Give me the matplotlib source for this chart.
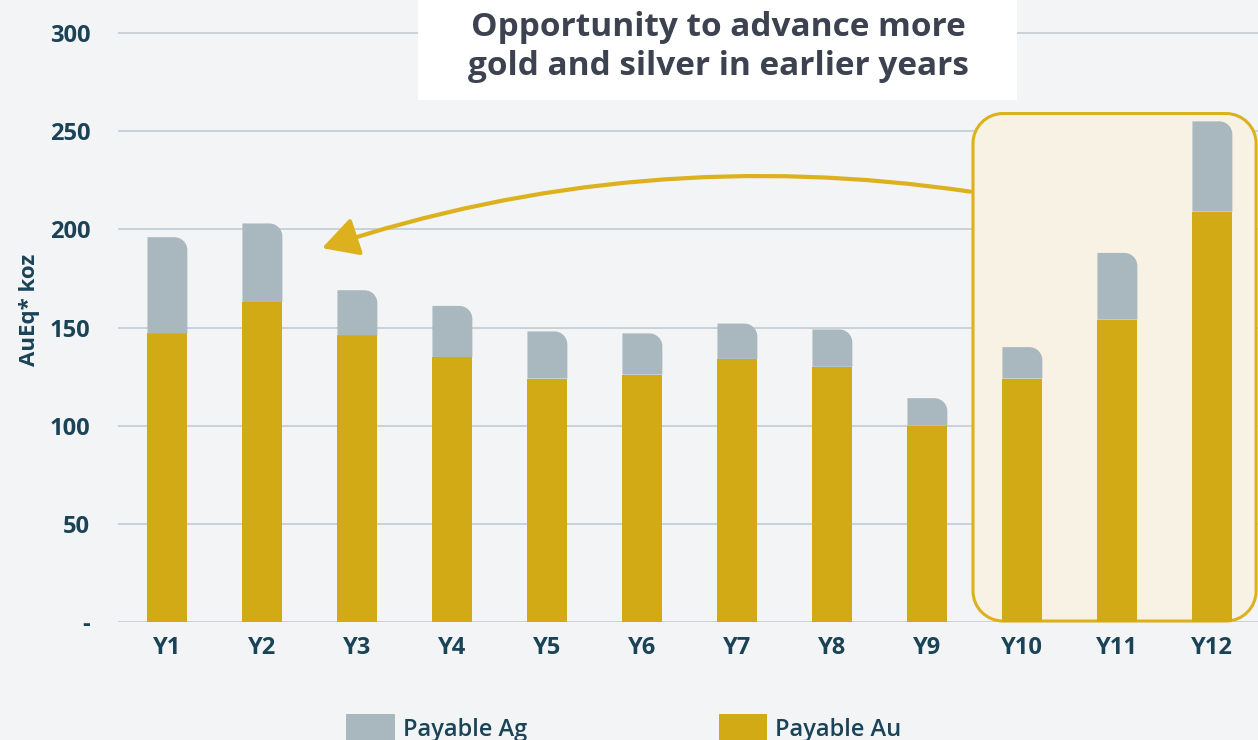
import numpy as np
import matplotlib.pyplot as plt
from matplotlib.path import Path
from matplotlib.patches import PathPatch, Rectangle, FancyArrowPatch, Patch

years = ['Y1', 'Y2', 'Y3', 'Y4', 'Y5', 'Y6', 'Y7', 'Y8', 'Y9', 'Y10', 'Y11', 'Y12']
payable_au = [147, 163, 146, 135, 124, 126, 134, 130, 100, 124, 154, 209]
payable_ag = [49, 40, 23, 26, 24, 21, 18, 19, 14, 16, 34, 46]
y_ticks = [0, 50, 100, 150, 200, 250, 300]
y_tick_labels = ['-', '50', '100', '150', '200', '250', '300']

au_color = '#D2AA15'
ag_color = '#A9B7BE'
bg_color = '#F2F4F6'
text_color = '#1B4357'
gold_line = '#DDB11E'

plt.rcParams['font.family'] = ['Open Sans', 'DejaVu Sans']

fig = plt.figure(figsize=(12.58, 7.4), dpi=100, facecolor=bg_color)
ax = fig.add_axes([118 / 1258, 118 / 740, 1140 / 1258, 608.6 / 740])
ax.set_facecolor(bg_color)

x = np.arange(len(years))
ax.set_xlim(-0.52, 11.48)
ax.set_ylim(0, 310)


def rounded_path(x0, y0, x1, y1, rx, ry, corners):
    # corners: flags for (bottom-left, bottom-right, top-right, top-left)
    k = 0.5523
    bl, br, tr, tl = corners
    verts, codes = [], []
    if bl:
        verts.append((x0 + rx, y0))
    else:
        verts.append((x0, y0))
    codes.append(Path.MOVETO)
    if br:
        verts += [(x1 - rx, y0), (x1 - rx + k * rx, y0), (x1, y0 + ry - k * ry), (x1, y0 + ry)]
        codes += [Path.LINETO, Path.CURVE4, Path.CURVE4, Path.CURVE4]
    else:
        verts.append((x1, y0))
        codes.append(Path.LINETO)
    if tr:
        verts += [(x1, y1 - ry), (x1, y1 - ry + k * ry), (x1 - rx + k * rx, y1), (x1 - rx, y1)]
        codes += [Path.LINETO, Path.CURVE4, Path.CURVE4, Path.CURVE4]
    else:
        verts.append((x1, y1))
        codes.append(Path.LINETO)
    if tl:
        verts += [(x0 + rx, y1), (x0 + rx - k * rx, y1), (x0, y1 - ry + k * ry), (x0, y1 - ry)]
        codes += [Path.LINETO, Path.CURVE4, Path.CURVE4, Path.CURVE4]
    else:
        verts.append((x0, y1))
        codes.append(Path.LINETO)
    if bl:
        verts += [(x0, y0 + ry), (x0, y0 + ry - k * ry), (x0 + rx - k * rx, y0), (x0 + rx, y0)]
        codes += [Path.LINETO, Path.CURVE4, Path.CURVE4, Path.CURVE4]
    verts.append(verts[0])
    codes.append(Path.CLOSEPOLY)
    return Path(verts, codes)


# pixel size of one data unit
p0 = ax.transData.transform((0, 0))
p1 = ax.transData.transform((1, 1))
px_x, px_y = p1[0] - p0[0], p1[1] - p0[1]

# highlight box around Y10-Y12
box_r = 30
hl = PathPatch(rounded_path(8.48, 0.5, 11.46, 259, box_r / px_x, box_r / px_y,
                            (True, True, True, True)),
               facecolor='#F8F2E4', edgecolor=gold_line, lw=2.2, zorder=1, clip_on=False)
ax.add_patch(hl)

bar_w = 0.42
ax.bar(x, payable_au, width=bar_w, color=au_color, zorder=2)
ag_bars = ax.bar(x, payable_ag, width=bar_w, bottom=payable_au, color=ag_color, zorder=2)

r = 13
for b in ag_bars:
    bx, by, bw, bh = b.get_x(), b.get_y(), b.get_width(), b.get_height()
    b.set_visible(False)
    ax.add_patch(PathPatch(rounded_path(bx, by, bx + bw, by + bh, r / px_x, r / px_y,
                                        (False, False, True, False)),
                           facecolor=ag_color, edgecolor='none', zorder=2))

ax.set_yticks(y_ticks)
ax.set_yticklabels(y_tick_labels)
ax.set_xticks(x)
ax.set_xticklabels(years)
ax.tick_params(length=0, labelsize=17, labelcolor=text_color, pad=10)
ax.tick_params(axis='y', pad=20)
for lbl in ax.get_xticklabels() + ax.get_yticklabels():
    lbl.set_fontweight('bold')
ax.yaxis.grid(True, color='#C5CFD5', lw=1.3)
ax.set_axisbelow(True)
for s in ax.spines.values():
    s.set_visible(False)

fig.text(30 / 1258, 1 - 310 / 740, 'AuEq* koz', rotation=90, ha='center', va='center',
         fontsize=16, fontweight='bold', color=text_color)

# arrow from highlight box back to early years
arrow = FancyArrowPatch((8.48, 219), (1.6, 190), connectionstyle='arc3,rad=0.12',
                        arrowstyle='-|>,head_length=1.1,head_width=0.6', mutation_scale=20,
                        color=gold_line, lw=3, zorder=4)
ax.add_patch(arrow)

# title box
fig.patches.append(Rectangle((418 / 1258, 1 - 100 / 740), 599 / 1258, 100 / 740,
                             transform=fig.transFigure, facecolor='white',
                             edgecolor='none', zorder=5))
fig.text(718 / 1258, 1 - 47 / 740,
         'Opportunity to advance more\ngold and silver in earlier years',
         ha='center', va='center', fontsize=24, fontweight='bold', color='#3D4250',
         linespacing=1.27, zorder=6)

handles = [Patch(facecolor=ag_color, label='Payable Ag'),
           Patch(facecolor=au_color, label='Payable Au')]
fig.legend(handles=handles, loc='center', bbox_to_anchor=(624 / 1258, 12 / 740),
           ncol=2, frameon=False, labelcolor=text_color,
           handlelength=2.05, handleheight=1.4, handletextpad=0.35, columnspacing=8.1,
           prop={'weight': 'semibold', 'size': 17})

fig.savefig('out.png', dpi=100, facecolor=bg_color)
